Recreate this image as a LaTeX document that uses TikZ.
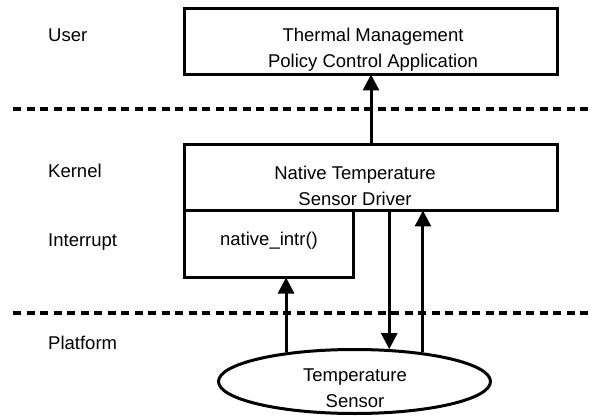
\documentclass[tikz,border=0pt]{standalone}
\usepackage{fontspec}
\setmainfont{Liberation Sans}
\usepackage{tikz}
\usetikzlibrary{arrows.meta, positioning, shapes.geometric}

\begin{document}
\begin{tikzpicture}[
    x=1pt, y=-1pt,
    font=\fontsize{18.5}{26}\selectfont,
    box/.style={rectangle, draw, line width=3pt, outer sep=0pt, minimum width=373pt, minimum height=66pt},
    txt/.style={align=center, inner sep=0pt},
    layer/.style={anchor=base west, inner sep=0pt},
    divider/.style={line width=3.5pt, dash pattern=on 8pt off 5.5pt},
    arrow/.style={-{Triangle[length=16pt, width=16pt]}, line width=3pt}
]
\useasboundingbox (0,0) rectangle (601,419);

% boxes
\node[box] (app) at (371,41.5) {};
\node[box, below=70pt of app] (drv) {};
\node[box, minimum width=169pt, minimum height=67pt, anchor=north west] (intr) at (drv.south west) {};
\node[ellipse, draw, line width=3pt, minimum width=272pt, minimum height=64pt] (sensor) at (354.5,381.5) {};

% texts
\node[txt] (apptext) at (373,50) {Thermal Management\\Policy Control Application};
\node[txt] (drvtext) at (355,185.5) {Native Temperature\\Sensor Driver};
\node[txt] (intrtext) at (269,241) {native\_intr()};
\node[txt] (sensortext) at (355,388) {Temperature\\Sensor};

% layers
\node[layer] (user) at (48,42) {User};
\node[layer] (kernel) at (48,178) {Kernel};
\node[layer] (interrupt) at (48,247) {Interrupt};
\node[layer] (platform) at (48,349) {Platform};

\coordinate (d1l) at (13,109);
\coordinate (d1r) at (593,109);
\coordinate (d2l) at (13,313);
\coordinate (d2r) at (593,313);
\draw[divider] (d1l) -- (d1r);
\draw[divider] (d2l) -- (d2r);

\draw[arrow] (drv.north) -- (app.south);
\draw[arrow] (sensor.43 |- drv.south) -- (sensor.43);
\draw[arrow] (sensor.23) -- (sensor.23 |- drv.south);
\draw[arrow] (sensor.157) -- (sensor.157 |- intr.south);
\end{tikzpicture}
\end{document}
